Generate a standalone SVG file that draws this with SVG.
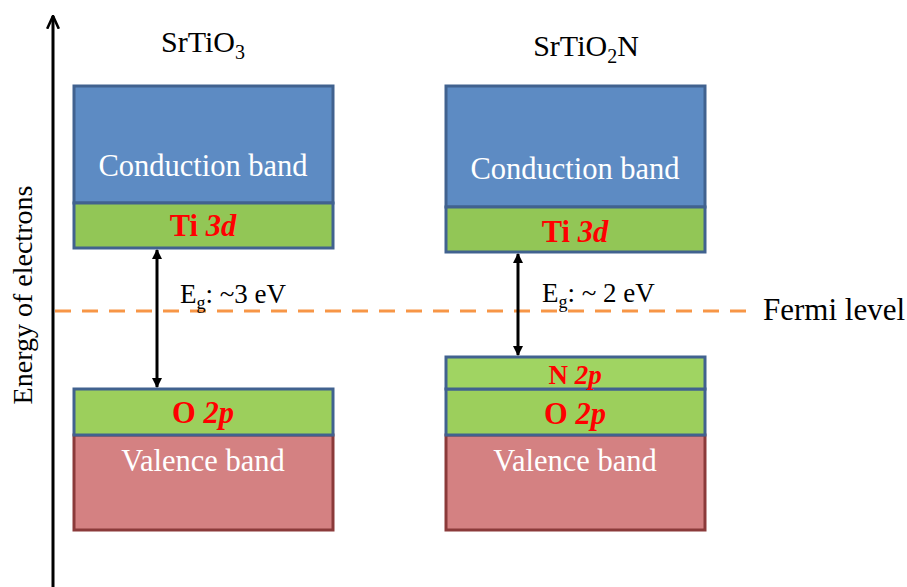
<svg xmlns="http://www.w3.org/2000/svg" width="907" height="587" viewBox="0 0 907 587" font-family="'Liberation Serif', serif">
<defs>
<marker id="ah" viewBox="0 0 10 10" refX="9" refY="5" markerWidth="10" markerHeight="10" markerUnits="userSpaceOnUse" orient="auto-start-reverse"><path d="M0,0 L10,5 L0,10 z" fill="#000"/></marker>
<marker id="ah2" viewBox="0 0 12 12" refX="11" refY="6" markerWidth="14" markerHeight="14" markerUnits="userSpaceOnUse" orient="auto"><path d="M0,1 L11,6 L0,11" fill="none" stroke="#000" stroke-width="2.2"/></marker>
</defs>
<style>
.cb{fill:#5D8BC3;stroke:#41628F;stroke-width:3}
.gr{fill:#92C656;stroke:#41628F;stroke-width:3}
.gr2{fill:#9CCF5C;stroke:#41628F;stroke-width:3}
.vb{fill:#D48182;stroke:#8B3A3A;stroke-width:3}
.wt{fill:#fff;font-size:30.5px;text-anchor:middle;font-family:'Liberation Serif',serif}
.rd{fill:#FF0000;font-weight:bold;text-anchor:middle;font-family:'Liberation Serif',serif}
.bk{fill:#000;font-family:'Liberation Serif',serif}
</style>
<g id="axis">
<line x1="53" y1="587" x2="53" y2="16" stroke="#000" stroke-width="3" marker-end="url(#ah2)"/>
<text transform="translate(32,295) rotate(-90)" text-anchor="middle" font-size="28" class="bk">Energy of electrons</text>
</g>
<g id="fermi">
<line x1="55" y1="311" x2="748" y2="311" stroke="#F79646" stroke-width="3" stroke-dasharray="16,11"/>
<text x="763" y="320" font-size="31" class="bk">Fermi level</text>
</g>
<g id="srtio3">
<text x="203" y="52" font-size="30" class="bk" text-anchor="middle">SrTiO<tspan font-size="20" dy="7">3</tspan></text>
<g id="cb1"><rect x="74" y="86" width="259" height="117" class="cb"/><text x="203" y="176" class="wt">Conduction band</text></g>
<g id="ti1"><rect x="74" y="203" width="259" height="45" class="gr"/><text x="203" y="236" font-size="30.5" class="rd">Ti <tspan font-style="italic">3d</tspan></text></g>
<g id="vb1"><rect x="74" y="435" width="259" height="95" class="vb"/><text x="203" y="471" class="wt">Valence band</text></g>
<g id="o1"><rect x="74" y="389" width="259" height="46" class="gr2"/><text x="203" y="423" font-size="30.5" class="rd">O <tspan font-style="italic">2p</tspan></text></g>
</g>
<g id="srtio2n">
<text x="586" y="56" font-size="30" class="bk" text-anchor="middle">SrTiO<tspan font-size="20" dy="7">2</tspan><tspan dy="-7">N</tspan></text>
<g id="cb2"><rect x="446" y="86" width="259" height="121" class="cb"/><text x="575" y="179" class="wt">Conduction band</text></g>
<g id="ti2"><rect x="446" y="207" width="259" height="45" class="gr"/><text x="575" y="242" font-size="30.5" class="rd">Ti <tspan font-style="italic">3d</tspan></text></g>
<g id="vb2"><rect x="446" y="435" width="259" height="95" class="vb"/><text x="575" y="471" class="wt">Valence band</text></g>
<g id="o2"><rect x="446" y="389" width="259" height="46" class="gr2"/><text x="575" y="424" font-size="30.5" class="rd">O <tspan font-style="italic">2p</tspan></text></g>
<g id="n2"><rect x="446" y="357" width="259" height="32" class="gr2" style="fill:#A0D462"/><text x="575" y="384" font-size="27" class="rd">N <tspan font-style="italic">2p</tspan></text></g>
</g>
<g id="connectors">
<line x1="157" y1="250" x2="157" y2="387" stroke="#000" stroke-width="3" marker-start="url(#ah)" marker-end="url(#ah)"/>
<line x1="518" y1="254" x2="518" y2="355" stroke="#000" stroke-width="3" marker-start="url(#ah)" marker-end="url(#ah)"/>
</g>
<g id="labels">
<text x="180" y="303" font-size="27" class="bk">E<tspan font-size="18" dy="6">g</tspan><tspan dy="-6">: ~3 eV</tspan></text>
<text x="542" y="302" font-size="27" class="bk">E<tspan font-size="18" dy="6">g</tspan><tspan dy="-6">: ~ 2 eV</tspan></text>
</g>
</svg>
